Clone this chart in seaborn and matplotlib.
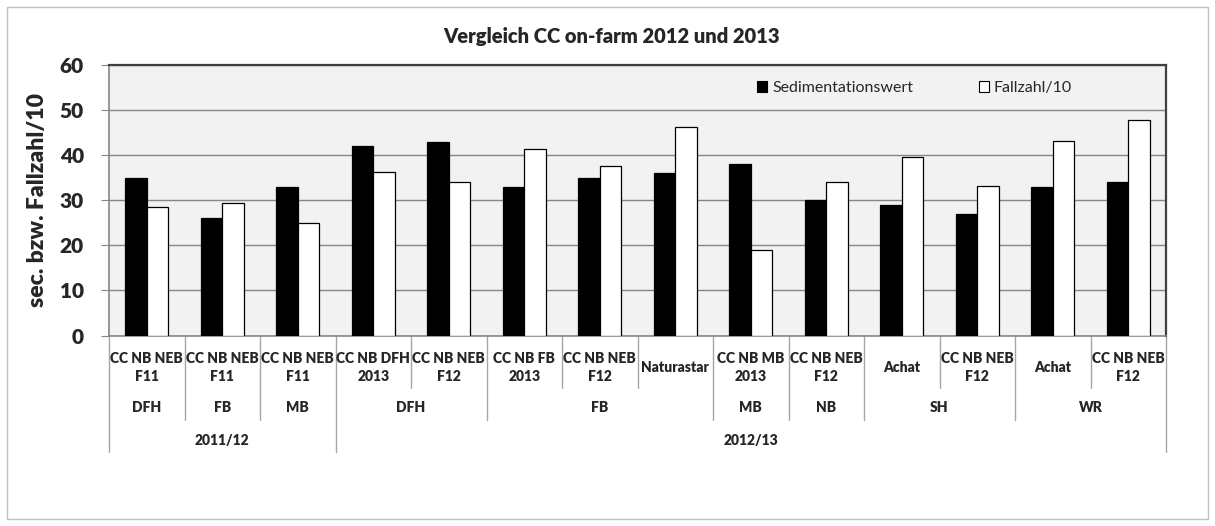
import matplotlib
matplotlib.use("Agg")
import matplotlib.pyplot as plt
import pandas as pd
import seaborn as sns
from matplotlib.patches import Rectangle

# data
season = ["2011/12"] * 3 + ["2012/13"] * 11
group = ["DFH", "FB", "MB", "DFH", "DFH", "FB", "FB", "FB", "MB", "NB", "SH", "SH", "WR", "WR"]
variety = [
    "CC NB NEB\nF11", "CC NB NEB\nF11", "CC NB NEB\nF11",
    "CC NB DFH\n2013", "CC NB NEB\nF12", "CC NB FB\n2013", "CC NB NEB\nF12",
    "Naturastar", "CC NB MB\n2013", "CC NB NEB\nF12", "Achat",
    "CC NB NEB\nF12", "Achat", "CC NB NEB\nF12",
]
sedimentation = [35, 26, 33, 42, 43, 33, 35, 36, 38, 30, 29, 27, 33, 34]
fallzahl = [28.4, 29.5, 25.0, 36.2, 34.0, 41.4, 37.5, 46.3, 18.9, 34.1, 39.7, 33.1, 43.2, 47.8]

series_names = ["Sedimentationswert", "Fallzahl/10"]

n = len(variety)
df = pd.DataFrame({
    "pos": list(range(n)) * 2,
    "value": sedimentation + fallzahl,
    "series": [series_names[0]] * n + [series_names[1]] * n,
})

sns.set_style("white")
plt.rcParams["font.family"] = ["Lato", "DejaVu Sans"]

fig = plt.figure(figsize=(12.15, 5.26), dpi=100)
ax = fig.add_axes([109 / 1215, 1 - 335.5 / 526, 1057 / 1215, 270.5 / 526])
ax.set_facecolor("#f2f2f2")

sns.barplot(data=df, x="pos", y="value", hue="series", order=list(range(n)),
            palette=["black", "white"], edgecolor="black", linewidth=0.9,
            width=0.57, ax=ax, zorder=3)

ax.set_ylim(0, 60)
ax.set_yticks(range(0, 61, 10))
ax.yaxis.grid(True, color="#868686", lw=1)
ax.set_axisbelow(True)
ax.tick_params(axis="y", left=True, length=6, color="#868686", pad=12,
               labelsize=15)
for lbl in ax.get_yticklabels():
    lbl.set_fontweight("heavy")
ax.set_xticks([])
ax.set_xlabel("")
ax.set_ylabel("sec. bzw. Fallzahl/10", fontsize=16.5, fontweight="heavy")
ax.yaxis.set_label_coords(-0.058, 0.5)

for side in ["top", "right"]:
    ax.spines[side].set_color("#404040")
    ax.spines[side].set_linewidth(1.6)
for side in ["left", "bottom"]:
    ax.spines[side].set_color("#868686")
    ax.spines[side].set_linewidth(1.2)

fig.text(612 / 1215, 1 - 37 / 526, "Vergleich CC on-farm 2012 und 2013",
         ha="center", va="center", fontsize=14.5, fontweight="heavy")

leg = ax.legend(loc="center", bbox_to_anchor=(0.762, 0.915), ncol=2,
                frameon=False, fontsize=11.5, handlelength=0.65,
                handleheight=0.65, handletextpad=0.3, columnspacing=4.1)
for h in leg.legend_handles:
    h.set_linewidth(0.8)

# multi-level category axis
trans = ax.get_xaxis_transform()
line_kw = dict(color="#a6a6a6", lw=1, transform=trans, clip_on=False)
y_cat, y_grp, y_sea = -0.194, -0.312, -0.43
lab_kw = dict(transform=trans, ha="center", va="center", fontsize=10,
              fontweight="heavy")

for i, lab in enumerate(variety):
    ax.text(i, -0.12, lab, linespacing=1.45, **lab_kw)

# separators between categories
for i in range(n + 1):
    x = i - 0.5
    if i == 0 or i == n or season[i - 1] != season[i]:
        y_end = y_sea
    elif group[i - 1] != group[i]:
        y_end = y_grp
    else:
        y_end = y_cat
    ax.plot([x, x], [0, y_end], **line_kw)

# group labels
start = 0
for i in range(1, n + 1):
    if i == n or group[i] != group[start] or season[i] != season[start]:
        ax.text((start + i - 1) / 2, -0.268, group[start], **lab_kw)
        start = i

# season labels
start = 0
for i in range(1, n + 1):
    if i == n or season[i] != season[start]:
        ax.text((start + i - 1) / 2, -0.39, season[start], **lab_kw)
        start = i

ax.set_xlim(-0.5, n - 0.5)

fig.patches.append(Rectangle((7 / 1215, 7 / 526), 1201 / 1215, 512 / 526,
                             transform=fig.transFigure, fill=False,
                             edgecolor="#bfbfbf", lw=1))

fig.savefig("out.png", dpi=100)
